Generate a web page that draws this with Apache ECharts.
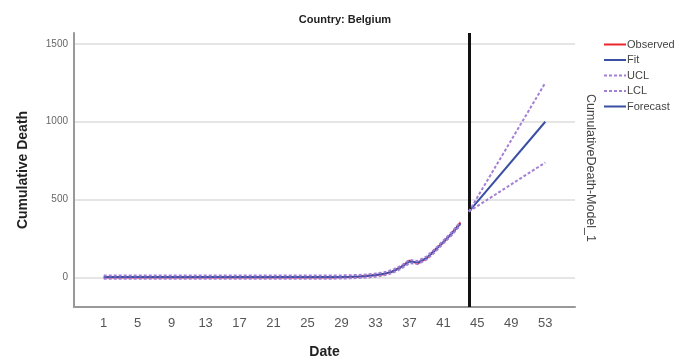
<!DOCTYPE html>
<html><head><meta charset="utf-8">
<script src="https://cdn.jsdelivr.net/npm/echarts@6/dist/echarts.min.js"></script>
<style>html,body{margin:0;padding:0;background:#fff}#c{width:689px;height:364px}</style>
</head><body><div id="c"></div>
<script>
var title = 'Country: Belgium';
var days = [];
for (var i = 1; i <= 43; i++) days.push(i);
var observed = [0,0,0,0,0,0,0,0,0,0, 0,0,0,0,0,0,0,0,0,0, 0,0,0,0,0,0,0,0,1,3, 4,10,14,21,37,67,108,90,120,178, 225,285,352];
var fit      = [2,2,2,2,2,2,2,2,2,2, 2,2,2,2,2,2,2,2,2,2, 2,2,2,2,2,2,2,2,3,4, 6,9,15,23,38,65,102,96,124,172, 228,282,346];
var ucl      = [12,12,12,12,12,12,12,12,12,12, 12,12,12,12,12,12,12,12,12,12, 12,12,12,12,12,12,12,12,13,14, 16,19,25,33,48,75,112,106,134,182, 238,292,356];
var lcl      = [-8,-8,-8,-8,-8,-8,-8,-8,-8,-8, -8,-8,-8,-8,-8,-8,-8,-8,-8,-8, -8,-8,-8,-8,-8,-8,-8,-8,-7,-6, -4,-1,5,13,28,55,92,86,114,162, 218,272,336];
var forecastDays = [44, 53];
var forecast = [423, 1000];
var uclForecast = [423, 1250];
var lclForecast = [423, 738];
var forecastOrigin = 44;
var xTicks = [1,5,9,13,17,21,25,29,33,37,41,45,49,53];
var yTicks = [0,500,1000,1500];

function pairs(xs, ys){ return xs.map(function(x,i){return [x, ys[i]];}); }
function withBreak(a, b){ return a.concat([[43.5, null]]).concat(b); }

var chart = echarts.init(document.getElementById('c'));
var purple = '#a47fd6', blue = '#3a4fa3', red = '#e8262b';
chart.setOption({
  animation: false,
  title: {text: title, left: 340, top: 9, textAlign: 'center',
    textStyle: {fontFamily: 'Liberation Sans', fontSize: 11, fontWeight: 'bold', color: '#222'}},
  legend: {orient: 'vertical', left: 598, top: 34, itemWidth: 22, itemHeight: 12, itemGap: 4.5,
    itemStyle: {opacity: 0},
    textStyle: {fontFamily: 'Liberation Sans', fontSize: 11, color: '#444', padding: [0,0,0,-4]},
    data: ['Observed','Fit','UCL','LCL','Forecast']},
  grid: {left: 74, right: 114, top: 33, bottom: 56},
  xAxis: {type: 'value', min: -2.5, max: 56.5, name: 'Date', nameLocation: 'middle', nameGap: 38,
    nameTextStyle: {fontFamily: 'Liberation Sans', fontSize: 14, fontWeight: 'bold', color: '#222'},
    axisLine: {onZero: false, lineStyle: {color: '#999', width: 2}},
    axisTick: {show: false, customValues: xTicks},
    axisLabel: {customValues: xTicks, color: '#555', fontFamily: 'Liberation Sans', fontSize: 13, margin: 10},
    splitLine: {show: false}},
  yAxis: {type: 'value', min: -190, max: 1570, name: 'Cumulative Death', nameLocation: 'middle', nameGap: 44,
    nameTextStyle: {fontFamily: 'Liberation Sans', fontSize: 14, fontWeight: 'bold', color: '#222'},
    axisLine: {show: true, onZero: false, lineStyle: {color: '#999', width: 2}},
    axisTick: {show: false, customValues: yTicks},
    axisLabel: {customValues: yTicks, formatter: function(v){return String(v);}, color: '#666', fontFamily: 'Liberation Sans', fontSize: 10, margin: 6},
    splitLine: {show: true, lineStyle: {color: '#ddd', width: 1.5}}},
  graphic: [{type: 'text', x: 590, y: 168, rotation: -Math.PI/2,
    style: {text: 'CumulativeDeath-Model_1', fontFamily: 'Liberation Sans', fontSize: 12.5, fill: '#444',
      align: 'center', verticalAlign: 'middle'}}],
  series: [
    {name: 'Observed', type: 'line', symbol: 'none', data: pairs(days, observed), lineStyle: {color: red, width: 2}, itemStyle: {color: red}, z: 3},
    {name: 'Fit', type: 'line', symbol: 'none', data: pairs(days, fit), lineStyle: {color: blue, width: 2}, itemStyle: {color: blue}, z: 4},
    {name: 'UCL', type: 'line', symbol: 'none', connectNulls: false, data: withBreak(pairs(days, ucl), pairs(forecastDays, uclForecast)), lineStyle: {color: purple, width: 2, type: [3,2]}, itemStyle: {color: purple}, z: 5},
    {name: 'LCL', type: 'line', symbol: 'none', connectNulls: false, data: withBreak(pairs(days, lcl), pairs(forecastDays, lclForecast)), lineStyle: {color: purple, width: 2, type: [3,2]}, itemStyle: {color: purple}, z: 5},
    {name: 'Forecast', type: 'line', symbol: 'none', data: pairs(forecastDays, forecast), lineStyle: {color: blue, width: 2}, itemStyle: {color: blue}, z: 4,
      markLine: {symbol: 'none', silent: true, label: {show: false}, lineStyle: {color: '#111', width: 3, type: 'solid'},
        data: [{xAxis: forecastOrigin}]}}
  ]
});
</script></body></html>
